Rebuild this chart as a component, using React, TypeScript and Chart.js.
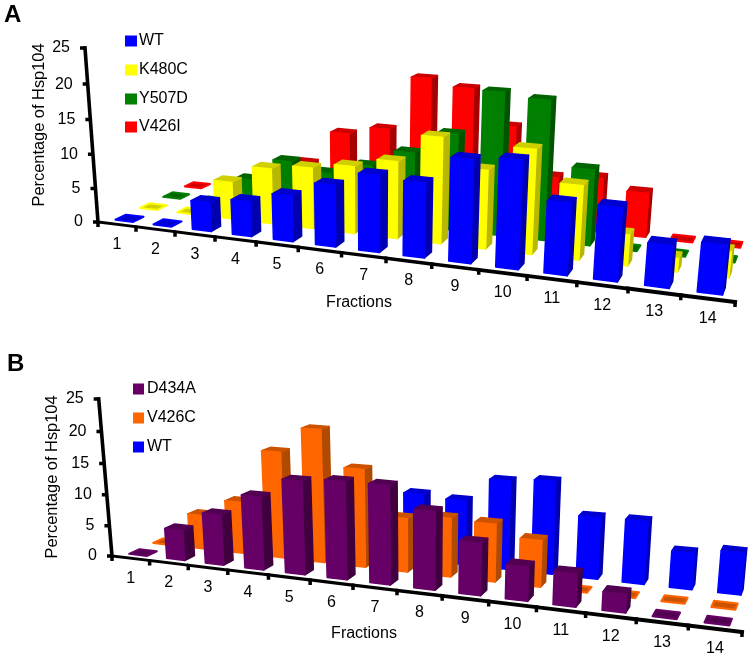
import React, { useEffect, useRef } from "react";
import { Chart, registerables } from "chart.js";

Chart.register(...registerables);

const fractions = ["1", "2", "3", "4", "5", "6", "7", "8", "9", "10", "11", "12", "13", "14"];
const yTicks = [0, 5, 10, 15, 20, 25];

const wt = [0, 0, 4.2, 5, 6.5, 8.6, 10.6, 10.2, 13.9, 14.4, 9.5, 9.6, 5.5, 6.3];
const k480c = [0, 0, 5.5, 8.1, 8.8, 9.6, 10.9, 14.8, 10.9, 14.3, 10.1, 4.2, 1.8, 3.5];
const y507d = [0, 0, 4.2, 7.6, 6.4, 8.1, 10.6, 13.8, 20.1, 19.5, 10.6, 0, 0, 0];
const v426i = [0, 0, 0, 5.8, 10.9, 12.1, 20, 19, 14, 7.3, 7.8, 6.3, 0, 0];

const d434a = [0, 4.9, 8, 11.5, 14.5, 15, 15, 11.8, 7.8, 5.1, 4.8, 2.7, 0, 0];
const v426c = [0, 5.6, 8.4, 17, 21, 15.4, 8.4, 9.1, 8.9, 7.1, 0, 0, 0, 0];

type Shades = { front: string; top: string; side: string };
const BLUE: Shades = { front: "#0000ff", top: "#0000d0", side: "#0000b0" };
const YELLOW: Shades = { front: "#ffff00", top: "#d0d000", side: "#b8b800" };
const GREEN: Shades = { front: "#007f00", top: "#006400", side: "#005400" };
const RED: Shades = { front: "#ff0000", top: "#cc0000", side: "#a80000" };
const PURPLE: Shades = { front: "#660066", top: "#520052", side: "#400040" };
const ORANGE: Shades = { front: "#ff6600", top: "#cc5200", side: "#b04a00" };

type Series = { label: string; values: number[]; shades: Shades };

const seriesA: Series[] = [
  { label: "WT", values: wt, shades: BLUE },
  { label: "K480C", values: k480c, shades: YELLOW },
  { label: "Y507D", values: y507d, shades: GREEN },
  { label: "V426I", values: v426i, shades: RED },
];
const seriesB: Series[] = [
  { label: "D434A", values: d434a, shades: PURPLE },
  { label: "V426C", values: v426c, shades: ORANGE },
  { label: "WT", values: wt, shades: BLUE },
];

type Panel = {
  letter: string;
  letterPos: [number, number];
  origin: [number, number];
  vx: [number, number];
  ax: number;
  vd: [number, number];
  ad: number;
  vz: [number, number];
  az: number;
  titleCenter: [number, number];
  xTitleCenter: [number, number];
  legendX: number;
  legendTextX: number;
  legendY: number[];
  swatch: [number, number];
};

const panelA: Panel = {
  letter: "A",
  letterPos: [4, 22],
  origin: [98, 222],
  vx: [-2911, -156],
  ax: -0.01248,
  vd: [891, -152],
  ad: 0.033,
  vz: [370, 3860],
  az: -0.001826,
  titleCenter: [39, 125],
  xTitleCenter: [359, 303],
  legendX: 125,
  legendTextX: 139,
  legendY: [41, 70, 99, 127],
  swatch: [12, 11],
};

const panelB: Panel = {
  letter: "B",
  letterPos: [7, 42],
  origin: [112, 227],
  vx: [-2881, -134],
  ax: -0.01242,
  vd: [887, -120],
  ad: 0.033,
  vz: [420, 3865],
  az: -0.001655,
  titleCenter: [52, 148],
  xTitleCenter: [364, 305],
  legendX: 133,
  legendTextX: 147,
  legendY: [60, 89, 118],
  swatch: [11, 11],
};

const BAR_W = 0.47;
const BAR_D = 0.42;
const FONT = '"Liberation Sans", Arial, sans-serif';

function makePlugin(panel: Panel, series: Series[]) {
  return {
    id: "perspective3d",
    afterDatasetsDraw(chart: any) {
      const ctx: CanvasRenderingContext2D = chart.ctx;
      const xs = chart.scales.x;
      const ys = chart.scales.y;
      const n = fractions.length;
      const maxV = ys.max;

      // Screen pixel of a scale position, passed through the panel's camera.
      const project = (t: number, d: number, z: number): [number, number] => {
        const [ox, oy] = panel.origin;
        const w = 1 + panel.ax * t + panel.ad * d + panel.az * z;
        const hx = ox + panel.ax * t * panel.vx[0] + panel.ad * d * panel.vd[0] + panel.az * z * panel.vz[0];
        const hy = oy + panel.ax * t * panel.vx[1] + panel.ad * d * panel.vd[1] + panel.az * z * panel.vz[1];
        return [hx / w, hy / w];
      };
      const tOf = (i: number) => ((xs.getPixelForValue(i) - xs.left) / xs.width) * n;
      const zOf = (v: number) => ((ys.bottom - ys.getPixelForValue(v)) / ys.height) * maxV;

      const quad = (pts: [number, number][], fill: string, stroke: string, lw = 1.5) => {
        ctx.beginPath();
        pts.forEach((p, i) => (i ? ctx.lineTo(p[0], p[1]) : ctx.moveTo(p[0], p[1])));
        ctx.closePath();
        ctx.fillStyle = fill;
        ctx.fill();
        ctx.strokeStyle = stroke;
        ctx.lineWidth = lw;
        ctx.lineJoin = "round";
        ctx.stroke();
      };

      ctx.save();

      // Panel letter
      ctx.fillStyle = "#000";
      ctx.font = `bold 24px ${FONT}`;
      ctx.textAlign = "left";
      ctx.textBaseline = "alphabetic";
      ctx.fillText(panel.letter, panel.letterPos[0], panel.letterPos[1]);

      // Bars, back row first
      for (let s = series.length - 1; s >= 0; s--) {
        const { values, shades } = series[s];
        const d = s + 0.5;
        values.forEach((v, i) => {
          const t = tOf(i);
          const z = zOf(v);
          const l = t - BAR_W / 2;
          const r = t + BAR_W / 2;
          const f = d - BAR_D / 2;
          const b = d + BAR_D / 2;
          if (v > 0) {
            quad([project(r, f, 0), project(r, b, 0), project(r, b, z), project(r, f, z)], shades.side, shades.side);
            quad([project(l, f, z), project(r, f, z), project(r, b, z), project(l, b, z)], shades.top, shades.top);
            quad([project(l, f, 0), project(r, f, 0), project(r, f, z), project(l, f, z)], shades.front, shades.front);
          } else {
            quad([project(l, f, z), project(r, f, z), project(r, b, z), project(l, b, z)], shades.top, shades.front, 2);
          }
        });
      }

      // Axes
      ctx.strokeStyle = "#000";
      ctx.lineCap = "square";
      const o = project(0, 0, 0);
      const yEnd = project(0, 0, maxV);
      for (let k = 0; k < n; k++) {
        const a = project(k, 0, 0);
        const b = project(k + 1, 0, 0);
        ctx.lineWidth = 2.8 + (1.4 * k) / n;
        ctx.beginPath();
        ctx.moveTo(a[0], a[1]);
        ctx.lineTo(b[0], b[1]);
        ctx.stroke();
      }
      ctx.lineWidth = 3.6;
      ctx.beginPath();
      ctx.moveTo(o[0], o[1]);
      ctx.lineTo(yEnd[0], yEnd[1]);
      ctx.stroke();

      ctx.lineCap = "butt";
      ctx.lineWidth = 3.5;
      ctx.beginPath();
      for (let k = 0; k <= n; k++) {
        const p = project(k, 0, 0);
        ctx.moveTo(p[0], p[1]);
        ctx.lineTo(p[0], p[1] + 5);
      }
      yTicks.forEach((tv) => {
        const p = project(0, 0, zOf(tv));
        ctx.moveTo(p[0], p[1]);
        ctx.lineTo(p[0] - 5, p[1]);
      });
      ctx.stroke();

      // Tick labels
      ctx.fillStyle = "#000";
      ctx.font = `16px ${FONT}`;
      ctx.textAlign = "center";
      ctx.textBaseline = "middle";
      fractions.forEach((lab, i) => {
        const p = project(tOf(i), 0, 0);
        ctx.fillText(lab, p[0], p[1] + 20);
      });
      ctx.textAlign = "right";
      yTicks.forEach((tv) => {
        const p = project(0, 0, zOf(tv));
        ctx.fillText(String(tv), p[0] - 15, p[1]);
      });

      // Axis titles
      ctx.textAlign = "center";
      ctx.fillText(chart.options.scales.x.title.text, panel.xTitleCenter[0], panel.xTitleCenter[1]);
      ctx.save();
      ctx.translate(panel.titleCenter[0], panel.titleCenter[1]);
      ctx.rotate(-Math.PI / 2);
      ctx.font = `16.4px ${FONT}`;
      ctx.fillText(chart.options.scales.y.title.text, 0, 0);
      ctx.restore();

      // Legend
      ctx.textAlign = "left";
      series.forEach((sr, i) => {
        const cy = panel.legendY[i];
        ctx.fillStyle = sr.shades.front;
        ctx.fillRect(panel.legendX, cy - panel.swatch[1] / 2, panel.swatch[0], panel.swatch[1]);
        ctx.fillStyle = "#000";
        ctx.fillText(sr.label, panel.legendTextX, cy);
      });

      ctx.restore();
    },
  };
}

function PanelChart({ panel, series, height }: { panel: Panel; series: Series[]; height: number }) {
  const ref = useRef<HTMLCanvasElement>(null);
  useEffect(() => {
    if (!ref.current) return;
    const chart = new Chart(ref.current, {
      type: "bar",
      data: {
        labels: fractions,
        datasets: series.map((s) => ({
          label: s.label,
          data: s.values,
          backgroundColor: "transparent",
          borderWidth: 0,
        })),
      },
      options: {
        animation: false,
        responsive: false,
        layout: { padding: 0 },
        plugins: { legend: { display: false }, tooltip: { enabled: false } },
        scales: {
          x: { display: false, title: { display: false, text: "Fractions" } },
          y: { display: false, min: 0, max: 25, title: { display: false, text: "Percentage of Hsp104" } },
        },
      },
      plugins: [makePlugin(panel, series)],
    } as any);
    return () => chart.destroy();
  }, [panel, series]);
  return <canvas ref={ref} width={749} height={height} style={{ display: "block" }} />;
}

export default function App() {
  return (
    <div style={{ position: "absolute", left: 0, top: 0, width: 749, height: 658, background: "#fff" }}>
      <PanelChart panel={panelA} series={seriesA} height={329} />
      <PanelChart panel={panelB} series={seriesB} height={329} />
    </div>
  );
}
